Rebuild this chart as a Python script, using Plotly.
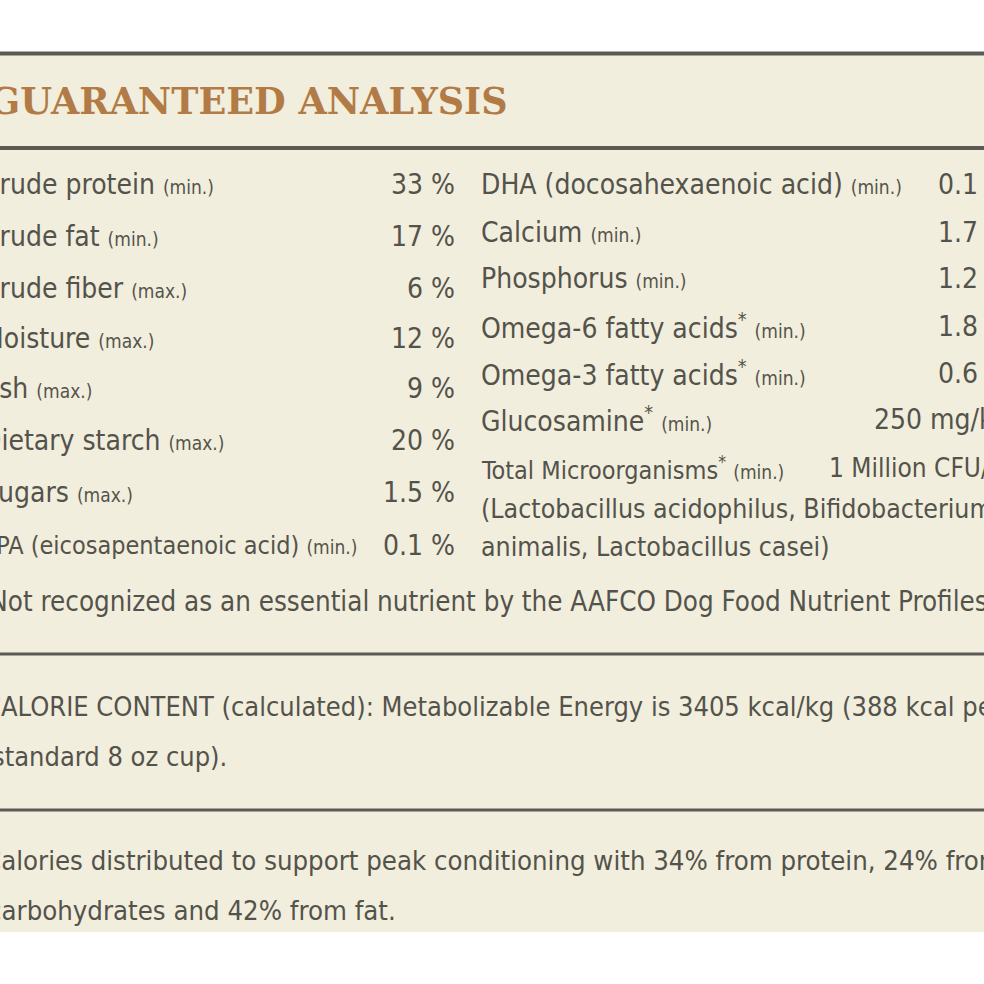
import plotly.graph_objects as go

W = 984
H = 984

# guaranteed analysis, left column
left_labels = ["Crude protein", "Crude fat", "Crude fiber", "Moisture", "Ash",
               "Dietary starch", "Sugars", "EPA (eicosapentaenoic acid)"]
left_quals = ["min.", "min.", "max.", "max.", "max.", "max.", "max.", "min."]
left_values = ["33 %", "17 %", "6 %", "12 %", "9 %", "20 %", "1.5 %", "0.1 %"]

# right column
right_labels = ["DHA (docosahexaenoic acid)", "Calcium", "Phosphorus",
                "Omega-6 fatty acids*", "Omega-3 fatty acids*", "Glucosamine*",
                "Total Microorganisms*"]
right_quals = ["min.", "min.", "min.", "min.", "min.", "min.", "min."]
right_values = ["0.1 %", "1.7 %", "1.2 %", "1.8 %", "0.6 %", "250 mg/kg", "1 Million CFU/lb"]
microbe_lines = ["(Lactobacillus acidophilus, Bifidobacterium",
                 "animalis, Lactobacillus casei)"]

title = "GUARANTEED ANALYSIS"
footnote = "*Not recognized as an essential nutrient by the AAFCO Dog Food Nutrient Profiles."
calorie_lines = ["CALORIE CONTENT (calculated): Metabolizable Energy is 3405 kcal/kg (388 kcal per",
                 "standard 8 oz cup)."]
dist_lines = ["Calories distributed to support peak conditioning with 34% from protein, 24% from",
              "carbohydrates and 42% from fat."]

CREAM = "#f1eedd"
INK = "#54534b"
RULE = "#5b5a54"
BROWN = "#b27b45"
BODY = "Liberation Sans Narrow, DejaVu Sans Condensed, Arial Narrow, sans-serif"


def px(x):
    return x / W


def py(y):
    return 1 - y / H


def label_html(name, qual, qsize=19):
    name = name.replace("*", "<sup>*</sup>")
    return name + ' <span style="font-size:%dpx">(' % qsize + qual + ')</span>'


fig = go.Figure()
ann = []

ann.append(dict(x=px(-13), y=py(102), text="<b>" + title + "</b>", xanchor="left", yanchor="middle",
                font=dict(family="DejaVu Serif", size=36.5, color=BROWN)))

left_rows = [185, 236, 288, 338, 389, 440, 492, 545]
for i in range(len(left_labels)):
    size = 25 if i == 7 else 28
    ann.append(dict(x=px(-20), y=py(left_rows[i]), text=label_html(left_labels[i], left_quals[i]),
                    xanchor="left", yanchor="middle", font=dict(family=BODY, size=size, color=INK)))
    ann.append(dict(x=px(457), y=py(left_rows[i]), text=left_values[i],
                    xanchor="right", yanchor="middle", font=dict(family=BODY, size=28, color=INK)))

right_rows = [185, 232, 279, 326, 373, 420, 468]
for i in range(len(right_labels)):
    size = 25 if i == 6 else 28
    ann.append(dict(x=px(479), y=py(right_rows[i]), text=label_html(right_labels[i], right_quals[i]),
                    xanchor="left", yanchor="middle", font=dict(family=BODY, size=size, color=INK)))
    ann.append(dict(x=px(1012), y=py(right_rows[i]), text=right_values[i],
                    xanchor="right", yanchor="middle", font=dict(family=BODY, size=size + 1 if i == 6 else size, color=INK)))

for j, line in enumerate(microbe_lines):
    ann.append(dict(x=px(479), y=py([508, 546][j]), text=line, xanchor="left", yanchor="middle",
                    font=dict(family=BODY, size=26.5, color=INK)))

ann.append(dict(x=px(-25), y=py(601), text=footnote, xanchor="left", yanchor="middle",
                font=dict(family=BODY, size=27.5, color=INK)))

for j, line in enumerate(calorie_lines):
    ann.append(dict(x=px([-18, -10][j]), y=py([706, 756][j]), text=line, xanchor="left", yanchor="middle",
                    font=dict(family=BODY, size=27, color=INK)))

for j, line in enumerate(dist_lines):
    ann.append(dict(x=px([-18, -14][j]), y=py([860, 910][j]), text=line, xanchor="left", yanchor="middle",
                    font=dict(family=BODY, size=27.3, color=INK)))

for a in ann:
    a.update(xref="paper", yref="paper", showarrow=False, align="left")

shapes = [
    dict(type="rect", x0=px(-10), x1=px(W + 10), y0=py(52), y1=py(932), fillcolor=CREAM, line_width=0, layer="below"),
]
for y, w in [(53.5, 4), (148, 4), (654, 3), (810, 3)]:
    shapes.append(dict(type="line", x0=px(-10), x1=px(W + 10), y0=py(y), y1=py(y),
                       line=dict(color=RULE, width=w)))
for s in shapes:
    s.update(xref="paper", yref="paper")

fig.update_layout(
    width=W,
    height=H,
    margin=dict(l=0, r=0, t=0, b=0),
    paper_bgcolor="white",
    plot_bgcolor="white",
    xaxis=dict(visible=False, range=[0, 1], fixedrange=True),
    yaxis=dict(visible=False, range=[0, 1], fixedrange=True),
    annotations=ann,
    shapes=shapes,
    showlegend=False,
)

# the page body has a default 8px margin; drop it so the figure sits at 0,0
fig.write_html("out.html", config={"displayModeBar": False},
               post_script="document.body.style.margin='0';")
